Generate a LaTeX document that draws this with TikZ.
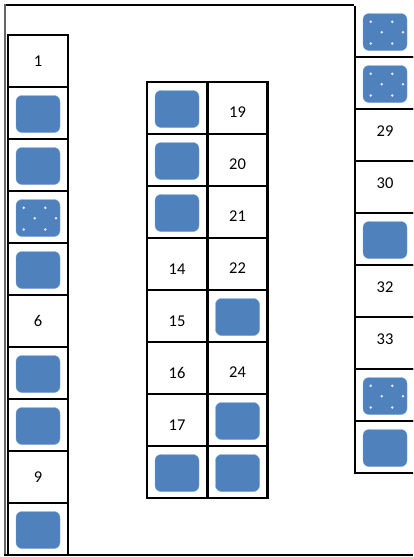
\documentclass[tikz,border=0pt]{standalone}
\usepackage{fontspec}
\setmainfont{Carlito}
\definecolor{tileblue}{RGB}{79,129,189}
\definecolor{tileedge}{RGB}{125,163,210}
\begin{document}
\begin{tikzpicture}[
 x=1pt,y=-1pt,
 frame/.style={line width=2pt},
 cell/.style={draw,line width=2.1pt,minimum width=60pt,minimum height=52pt,inner sep=0pt,outer sep=0pt},
 tile/.style={fill=tileblue,draw=tileedge,line width=.4pt,rounded corners=6pt,minimum width=44pt,minimum height=37pt,inner sep=0pt},
 spot/.style={circle,fill=white,opacity=.85,inner sep=0pt,minimum size=2.8pt},
 every node/.style={font=\fontsize{16.5}{18}\selectfont}]
 \useasboundingbox (0,0) rectangle (413,557);
 % outer frame
 \draw[frame] (354,5) -- (5,5);
 \draw[frame,black!60] (5,4) -- (5,555);
 \draw[frame] (4,555) -- (413,555);
 % columns: 0 = tile, -1 = dotted tile, else number
 \begin{scope}
  \clip (0,6) rectangle (413,557);
  \foreach \col/\cx/\cy/\ty/\cells in {l/38/61/0/{1,0,0,-1,0,6,0,0,9,0},
    ma/177/108/5/{0,0,0,14,15,16,17,0},mb/237.5/108/4/{19,20,21,22,0,24,0,0},
    r/385/31/-4/{-1,-1,29,30,0,32,33,-1,0}}{
   \foreach \c [count=\i] in \cells {
    \node[cell] (\col\i) at (\cx,{\cy+52*(\i-1)}) {};
    \ifnum\c=0
     \node[tile] (\col t\i) at ([yshift=-1pt]\col\i) {};
    \else\ifnum\c<0
     \node[tile] (\col t\i) at ([yshift=-1pt]\col\i) {};
     \foreach \dx/\dy [count=\j] in {-14.3/-10.2,7.3/-10.2,-3.3/.2,18/.2,-14.3/11.5,7.3/11.5}
      \node[spot] (\col d\i-\j) at ([shift={(\dx,\dy)}]\col t\i) {};
    \else
     \node (\col n\i) at ([yshift={-(\ty)*1pt}]\col\i) {\c};
    \fi\fi
   }
  }
 \end{scope}
\end{tikzpicture}
\end{document}
